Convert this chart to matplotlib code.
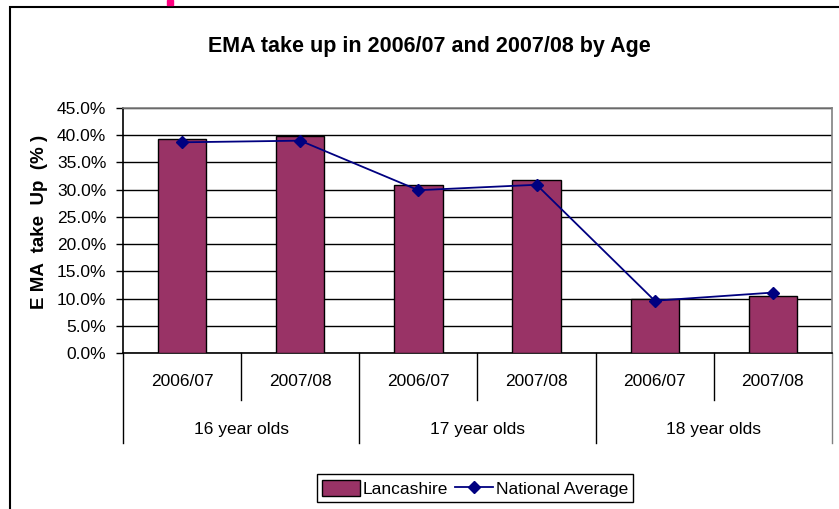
import matplotlib
matplotlib.use('Agg')
import matplotlib.pyplot as plt
from matplotlib.patches import Rectangle
from matplotlib.transforms import blended_transform_factory

plt.rcParams['font.family'] = ['Liberation Sans', 'DejaVu Sans']

# Data
years = ['2006/07', '2007/08', '2006/07', '2007/08', '2006/07', '2007/08']
groups = ['16 year olds', '17 year olds', '18 year olds']
lancashire = [39.3, 39.9, 30.9, 31.8, 9.9, 10.5]
national = [38.7, 39.0, 29.9, 30.9, 9.6, 11.1]
yticks = [0, 5, 10, 15, 20, 25, 30, 35, 40, 45]

fig = plt.figure(figsize=(8.39, 5.09), dpi=100)
ax = fig.add_axes([123/839, 1 - 353/509, (832 - 123)/839, 245/509])

x = list(range(len(years)))
bars = ax.bar(x, lancashire, width=0.41, color='#993366', edgecolor='black',
              linewidth=1, zorder=3, label='Lancashire')
line, = ax.plot(x, national, color='#000080', linewidth=1.3, marker='D',
                markersize=6, zorder=4, label='National Average')

ax.set_xlim(-0.5, len(years) - 0.5)
ax.set_ylim(0, 45)
ax.set_yticks(yticks)
ax.set_yticklabels([f'{v:.1f}%' for v in yticks], fontsize=12.5)
ax.set_xticks([])
ax.tick_params(axis='y', direction='out', length=5, width=1, pad=7)
ax.yaxis.grid(True, color='black', linewidth=1, zorder=0)
ax.set_axisbelow(True)

ax.spines['left'].set_color('black')
ax.spines['bottom'].set_color('black')
ax.spines['top'].set_color('#808080')
ax.spines['right'].set_color('#808080')
for s in ax.spines.values():
    s.set_linewidth(1.2)

ax.set_ylabel('E MA  take  Up  (% )', fontsize=13.5, fontweight='bold')
ax.yaxis.set_label_coords(-0.106, 0.535)

# Multi-level category axis
tr = blended_transform_factory(ax.transData, ax.transAxes)
for i, lab in enumerate(years):
    ax.text(i, -0.118, lab, transform=tr, ha='center', va='center', fontsize=12.5)
for g, lab in enumerate(groups):
    ax.text(2 * g + 0.5, -0.314, lab, transform=tr, ha='center', va='center', fontsize=12.5)
for i in range(len(years) + 1):
    xb = i - 0.5
    low = -0.367 if i % 2 == 0 else -0.192
    col = '#808080' if i == len(years) else 'black'
    ax.plot([xb, xb], [0, low], transform=tr, color=col, linewidth=1, clip_on=False)

fig.text(0.512, 0.909, 'EMA take up in 2006/07 and 2007/08 by Age',
         ha='center', va='center', fontsize=15.5, fontweight='bold')

leg = fig.legend([bars, line], ['Lancashire', 'National Average'],
                 loc='center', bbox_to_anchor=(0.566, 0.041), ncol=2,
                 fontsize=12.5, fancybox=False, edgecolor='black', framealpha=1,
                 handlelength=2.2, handleheight=1.1, handletextpad=0.15,
                 columnspacing=0.4, borderpad=0.3, borderaxespad=0)
leg.get_frame().set_linewidth(1)

# Chart area border and the stray mark at the top
fig.patches.append(Rectangle((10/839, -0.05), 1.1, 1 - 7/509 + 0.05,
                             transform=fig.transFigure, fill=False,
                             edgecolor='black', linewidth=1.5, clip_on=False))
fig.patches.append(Rectangle((167/839, 1 - 5/509), 6/839, 5/509,
                             transform=fig.transFigure, color='#ff0080'))

fig.savefig('out.png', dpi=100)
